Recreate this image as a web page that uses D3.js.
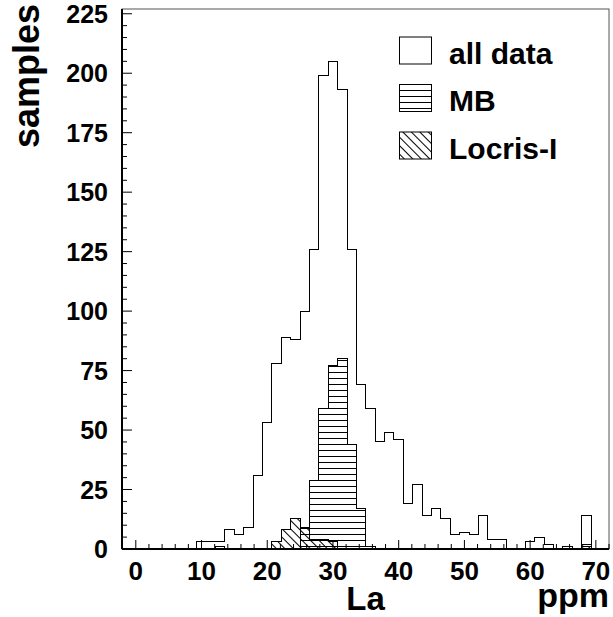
<!DOCTYPE html>
<html>
<head>
<meta charset="utf-8">
<script src="https://cdn.jsdelivr.net/npm/d3@7"></script>
<style>
  body { margin: 0; background: #fff; }
  text { font-family: "Liberation Sans", Arial, Helvetica, sans-serif; font-weight: bold; fill: #000; }
</style>
</head>
<body>
<svg id="chart" width="613" height="617"></svg>
<script>
// histogram: 50 bins, La concentration in ppm
const binLow = -0.714, binHigh = 70.714;
const allData    = [0,0,0,0,0,0,0,3,3,3,8,6,9,31,53,78,89,88,100,126,199,205,193,126,69,59,45,49,46,19,27,14,17,13,6,7,6,14,4,4,0,0,3,5,2,0,1,0,14,0];
const mbData     = [0,0,0,0,0,0,0,0,0,1,0,0,0,0,0,0,0,0,9,29,59,77,80,44,17,1,0,0,0,0,0,0,0,0,0,0,0,0,0,0,0,0,0,0,0,0,0,0,2,0];
const locrisData = [0,0,0,0,0,0,0,0,0,0,0,0,0,0,0,3,8,13,9,4,4,3,0,0,0,0,0,0,0,0,0,0,0,0,0,0,0,0,0,0,0,0,0,0,0,0,0,0,1,0];
const xTicks = [0,10,20,30,40,50,60,70];
const yTicks = [0,25,50,75,100,125,150,175,200,225];
const legendLabels = ["all data", "MB", "Locris-I"];

const svg = d3.select("#chart");
const frame = {left: 122, right: 609, top: 9, bottom: 549};

const x = d3.scaleLinear().domain([-2.1, 72]).range([frame.left, frame.right]);
const y = d3.scaleLinear().domain([0, 227]).range([frame.bottom, frame.top]);

// hatch patterns
const defs = svg.append("defs");
defs.append("pattern")
  .attr("id", "hatchH").attr("patternUnits", "userSpaceOnUse")
  .attr("width", 8).attr("height", 6)
  .append("line").attr("x1", 0).attr("x2", 8).attr("y1", 0.5).attr("y2", 0.5)
  .attr("stroke", "#000").attr("stroke-width", 1);
defs.append("pattern")
  .attr("id", "hatchD").attr("patternUnits", "userSpaceOnUse")
  .attr("width", 8).attr("height", 6).attr("patternTransform", "rotate(45)")
  .append("line").attr("x1", 0).attr("x2", 8).attr("y1", 0.5).attr("y2", 0.5)
  .attr("stroke", "#000").attr("stroke-width", 1);

defs.append("clipPath").attr("id", "clip").append("rect")
  .attr("x", frame.left).attr("y", frame.top)
  .attr("width", frame.right - frame.left).attr("height", frame.bottom - frame.top);

// frame
svg.append("rect")
  .attr("x", frame.left).attr("y", frame.top)
  .attr("width", frame.right - frame.left).attr("height", frame.bottom - frame.top)
  .attr("fill", "none").attr("stroke", "#555").attr("stroke-width", 1);

const nBins = allData.length;
const binW = (binHigh - binLow) / nBins;

const stepPoints = (vals) => {
  const pts = [[binLow, 0]];
  vals.forEach((v, i) => {
    pts.push([binLow + i * binW, v]);
    pts.push([binLow + (i + 1) * binW, v]);
  });
  pts.push([binHigh, 0]);
  return pts;
};

const line = d3.line().x(d => x(d[0])).y(d => y(d[1]));

const histG = svg.append("g").attr("clip-path", "url(#clip)");

const drawHist = (vals, fill) => {
  histG.append("path")
    .attr("d", line(stepPoints(vals)))
    .attr("fill", fill)
    .attr("stroke", "#000")
    .attr("stroke-width", 1)
    .attr("shape-rendering", "crispEdges");
};

drawHist(allData, "none");
drawHist(mbData, "url(#hatchH)");
drawHist(locrisData, "url(#hatchD)");

// x axis (ticks inside, pointing up)
const xAxisG = svg.append("g").attr("transform", `translate(0,${frame.bottom})`);
const xMinor = d3.range(0, 72.1, 2);
xAxisG.selectAll("line.minor").data(xMinor).join("line")
  .attr("x1", d => x(d)).attr("x2", d => x(d))
  .attr("y1", 0).attr("y2", d => (d % 10 === 0 ? -9 : -5))
  .attr("stroke", "#000").attr("stroke-width", 1);
xAxisG.append("line").attr("x1", frame.left).attr("x2", frame.right)
  .attr("stroke", "#000").attr("stroke-width", 2);
xAxisG.selectAll("text").data(xTicks).join("text")
  .attr("x", d => x(d)).attr("y", 31)
  .attr("text-anchor", "middle").attr("font-size", 26)
  .text(d => d);

// y axis (ticks inside, pointing right)
const yAxisG = svg.append("g").attr("transform", `translate(${frame.left},0)`);
const yMinor = d3.range(0, 226, 5);
yAxisG.selectAll("line.minor").data(yMinor).join("line")
  .attr("y1", d => y(d)).attr("y2", d => y(d))
  .attr("x1", 0).attr("x2", d => (d % 25 === 0 ? 10 : 5))
  .attr("stroke", "#000").attr("stroke-width", 1);
yAxisG.append("line").attr("y1", frame.top).attr("y2", frame.bottom)
  .attr("stroke", "#000").attr("stroke-width", 2);
yAxisG.selectAll("text").data(yTicks).join("text")
  .attr("x", -14).attr("y", d => y(d) + 9)
  .attr("text-anchor", "end").attr("font-size", 25)
  .text(d => d);

// axis titles
svg.append("text").attr("x", (frame.left + frame.right) / 2).attr("y", 610)
  .attr("text-anchor", "middle").attr("font-size", 33).text("La");
svg.append("text").attr("x", frame.right).attr("y", 607)
  .attr("text-anchor", "end").attr("font-size", 34).text("ppm");
svg.append("text")
  .attr("transform", "translate(39,4) rotate(-90)")
  .attr("text-anchor", "end").attr("font-size", 36).text("samples");

// legend
const legendFills = ["#fff", "url(#hatchH)", "url(#hatchD)"];
const legend = svg.append("g");
legendLabels.forEach((lab, i) => {
  const top = 37 + i * 47.5;
  legend.append("rect")
    .attr("x", 399.5).attr("y", top).attr("width", 32).attr("height", 27)
    .attr("fill", legendFills[i]).attr("stroke", "#000").attr("stroke-width", 1);
  legend.append("text").attr("x", 449).attr("y", top + 26.5)
    .attr("font-size", 30).text(lab);
});
</script>
</body>
</html>
